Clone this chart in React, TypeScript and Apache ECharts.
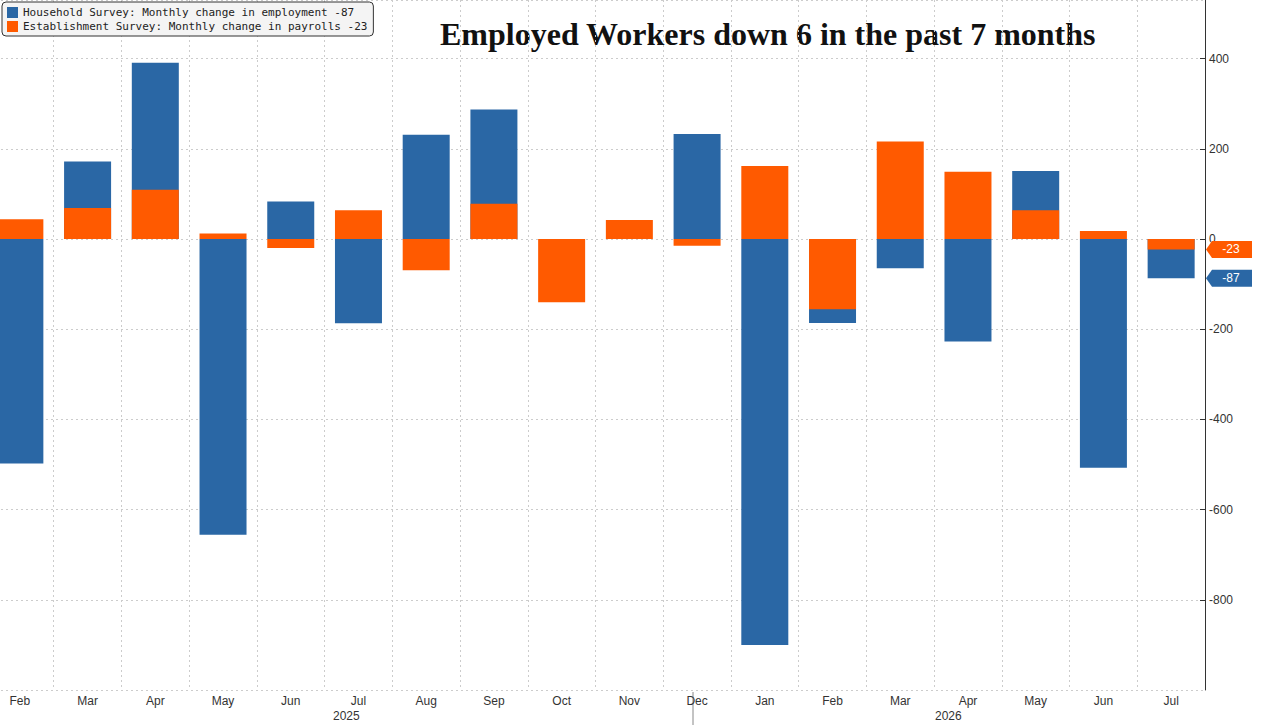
import { useEffect, useRef } from 'react';
import * as echarts from 'echarts';

const months = ['Feb', 'Mar', 'Apr', 'May', 'Jun', 'Jul', 'Aug', 'Sep', 'Oct', 'Nov', 'Dec', 'Jan', 'Feb', 'Mar', 'Apr', 'May', 'Jun', 'Jul'];
const household: Array<number | null> = [-498, 172, 391, -656, 83, -187, 231, 287, null, null, 233, -900, -186, -65, -227, 151, -507, -87];
const establishment = [44, 69, 109, 12, -20, 64, -69, 78, -140, 42, -15, 162, -156, 216, 149, 64, 18, -23];
const yearLabels = [{ text: '2025', x: 359 }, { text: '2026', x: 961 }];

const BLUE = '#2a67a5';
const ORANGE = '#ff5a00';
const SHIFT = 14;

function tag(value: number, color: string) {
  return {
    symbol: 'path://M0,6 L6,0 H46 V12 H6 Z',
    symbolSize: [46, 17],
    symbolKeepAspect: false,
    data: [{ x: 1229 + SHIFT, yAxis: value, value }],
    itemStyle: { color },
    label: { show: true, color: '#fff', fontSize: 12, fontFamily: 'Liberation Sans', offset: [2, 0], formatter: '{c}' }
  };
}

export default function App() {
  const ref = useRef<HTMLDivElement | null>(null);
  useEffect(() => {
    if (!ref.current) return undefined;
    const chart = echarts.init(ref.current, undefined, { renderer: 'svg' });
    chart.setOption({
      animation: false,
      backgroundColor: '#fff',
      grid: { left: 0, right: 75, top: 0, bottom: 35 },
      legend: {
        left: 2 + SHIFT, top: 2, orient: 'vertical', itemGap: 3, itemWidth: 11, itemHeight: 11,
        borderColor: '#333', borderWidth: 1, borderRadius: 4, padding: [5, 6, 4, 5],
        backgroundColor: '#f4f4f4',
        textStyle: { fontFamily: 'DejaVu Sans Mono', fontSize: 11, color: '#222' },
        icon: 'rect',
        data: ['Household Survey: Monthly change in employment -87', 'Establishment Survey: Monthly change in payrolls -23']
      },
      graphic: [
        {
          type: 'text', left: 440 + SHIFT, top: 18,
          style: {
            text: 'Employed Workers down 6 in the past 7 months', font: 'bold 32px "Liberation Serif"', fill: '#111',
            shadowColor: 'rgba(0,0,0,0.35)', shadowBlur: 6, shadowOffsetX: 3, shadowOffsetY: 3
          }
        },
        ...yearLabels.map((y) => ({ type: 'text', left: y.x - 12, top: 710, style: { text: y.text, font: '12px "Liberation Sans"', fill: '#333' } })),
        { type: 'line', shape: { x1: 693 + SHIFT, y1: 692, x2: 693 + SHIFT, y2: 725 }, style: { stroke: '#888', lineWidth: 1 } }
      ],
      xAxis: {
        type: 'category',
        data: months.map((m, i) => `${m}-${i}`),
        axisLine: { show: false },
        axisTick: { show: false },
        axisLabel: { formatter: (v: string) => v.split('-')[0], color: '#333', fontSize: 12, fontFamily: 'Liberation Sans', margin: 5 },
        splitLine: { show: true, interval: 0, lineStyle: { color: '#ccc', type: [2, 3] } }
      },
      yAxis: {
        type: 'value', position: 'right', min: -1000, max: 530, interval: 200,
        axisLine: { show: true, lineStyle: { color: '#333' } },
        axisTick: { show: true, inside: true, length: 5 },
        axisLabel: { showMaxLabel: false, showMinLabel: false, color: '#333', fontSize: 12, fontFamily: 'Liberation Sans', margin: 4 },
        splitLine: { lineStyle: { color: '#ccc', type: [2, 3] } }
      },
      series: [
        {
          name: 'Household Survey: Monthly change in employment -87', type: 'bar', data: household,
          barWidth: 47, barGap: '-100%', itemStyle: { color: BLUE }, markPoint: tag(-87, BLUE)
        },
        {
          name: 'Establishment Survey: Monthly change in payrolls -23', type: 'bar', data: establishment,
          barWidth: 47, itemStyle: { color: ORANGE }, markPoint: tag(-23, ORANGE)
        }
      ]
    });
    return () => chart.dispose();
  }, []);
  return <div ref={ref} style={{ width: 1280 + SHIFT, height: 725, position: 'fixed', left: -SHIFT, top: 0 }} />;
}
